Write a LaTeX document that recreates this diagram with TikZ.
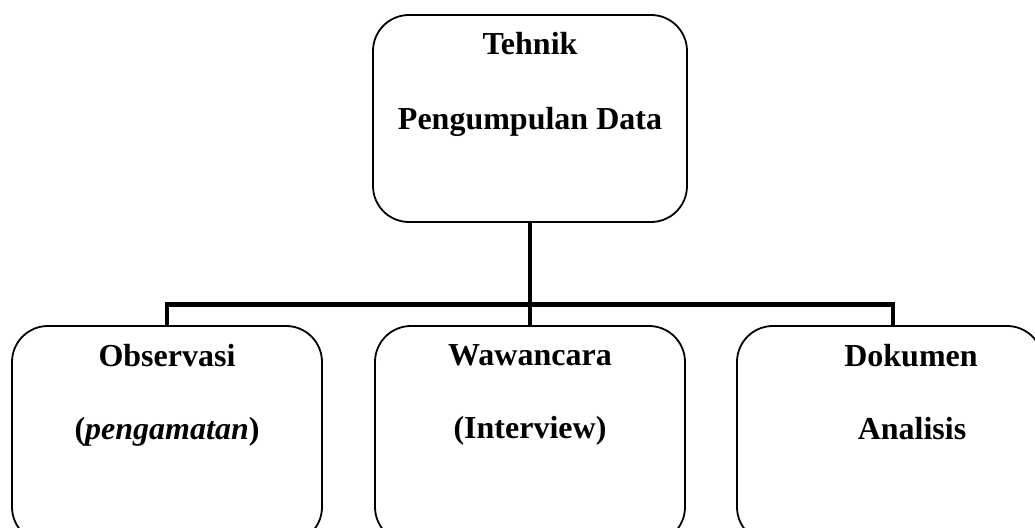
\documentclass[tikz,border=0pt]{standalone}
\usepackage{fontspec}
\setmainfont{Liberation Serif}
\begin{document}
\begin{tikzpicture}[x=1pt,y=1pt,font=\fontsize{32}{38}\selectfont\bfseries,
  roundbox/.style={draw=black,line width=1.8pt,rounded corners=36pt,minimum width=314pt,minimum height=207pt,inner sep=0pt},
  lowbox/.style={roundbox,minimum width=310pt,minimum height=217pt},
  boxtext/.style={anchor=base,inner sep=0pt},
  stemline/.style={draw=black,line width=4.5pt}]
\useasboundingbox (0,0) rectangle (1035,527);
\clip (0,0) rectangle (1035,527);
% boxes
\node[roundbox] (teknik) at (530,408.5) {};
\node[lowbox] (observasi) at (167,92.5) {};
\node[lowbox] (wawancara) at (530,92.5) {};
\node[lowbox,minimum width=306pt] (dokumen) at (890,92.5) {};
% labels
\node[boxtext] (teknikA) at (530,472) {Tehnik};
\node[boxtext] (teknikB) at (530,397) {Pengumpulan Data};
\node[boxtext] (observasiA) at (167,160) {Observasi};
\node[boxtext] (observasiB) at (167,87) {(\textit{pengamatan})};
\node[boxtext] (wawancaraA) at (530,161) {Wawancara};
\node[boxtext] (wawancaraB) at (530,88) {(Interview)};
\node[boxtext] (dokumenA) at (911,160) {Dokumen};
\node[boxtext] (dokumenB) at (912,87) {Analisis};
% connectors
\coordinate (bar) at (530,222.5);
\draw[stemline] (teknik.south) -- (wawancara.north);
\draw[stemline] (observasi.north) -- (observasi.north |- bar) -- ([xshift=3pt]dokumen.north |- bar) -- ([xshift=3pt]dokumen.north);
\end{tikzpicture}
\end{document}
